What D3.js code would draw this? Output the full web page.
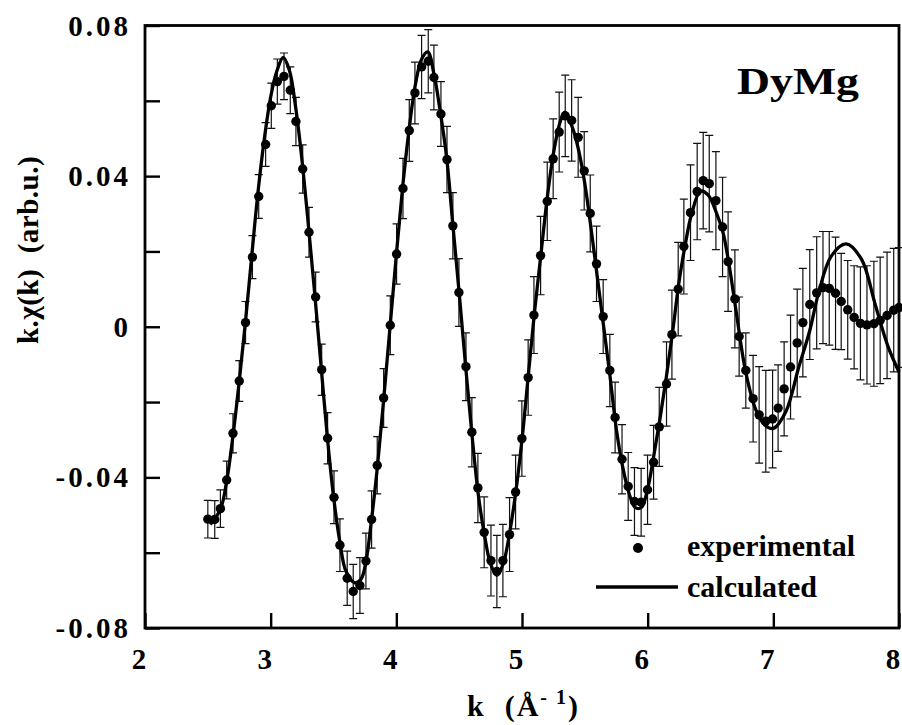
<!DOCTYPE html>
<html>
<head>
<meta charset="utf-8">
<script src="https://cdn.jsdelivr.net/npm/d3@7/dist/d3.min.js"></script>
<style>
  html, body { margin: 0; padding: 0; background: #fff; }
  svg { display: block; }
  text { font-family: "Liberation Serif", "Times New Roman", serif; font-weight: bold; fill: #000; }
</style>
</head>
<body>
<svg id="chart" width="902" height="725"></svg>
<script>
// ---- Data ----
const kExp = [2.50,2.555,2.60,2.65,2.70,2.75,2.80,2.855,2.905,2.96,3.005,3.053,3.106,3.156,3.201,3.255,3.305,3.358,
  3.406,3.453,3.504,3.551,3.609,3.657,3.710,3.758,3.803,3.848,3.899,3.952,4.002,4.053,4.103,4.148,4.201,4.254,4.299,
  4.355,4.403,4.450,4.498,4.554,4.601,4.649,4.699,4.753,4.800,4.848,4.901,4.949,4.999,5.049,5.095,5.148,5.201,5.248,
  5.296,5.344,5.395,5.447,5.495,5.543,5.593,5.646,5.699,5.741,5.796,5.845,5.895,5.948,5.999,6.047,6.092,6.150,6.193,
  6.243,6.288,6.341,6.394,6.442,6.490,6.543,6.596,6.640,6.694,6.728,6.781,6.839,6.887,6.940,6.994,7.038,7.086,7.137,
  7.190,7.235,7.290,7.345,7.395,7.445,7.495,7.540,7.592,7.643,7.693,7.745,7.800,7.850,7.905,7.958,8.000];
const chiExp = [-0.0511,-0.0512,-0.0483,-0.0407,-0.0283,-0.0144,0.0011,0.0185,0.0346,0.0484,0.0587,0.0651,0.0665,0.0628,0.0545,0.0419,0.0251,0.0079,
  -0.0114,-0.0296,-0.0453,-0.0580,-0.0668,-0.0703,-0.0687,-0.0622,-0.0512,-0.0368,-0.0189,0.0004,0.0193,0.0367,0.0521,0.0621,0.0690,0.0705,0.0662,
  0.0565,0.0444,0.0268,0.0091,-0.0106,-0.0280,-0.0428,-0.0546,-0.0621,-0.0650,-0.0621,-0.0552,-0.0439,-0.0297,-0.0135,0.0031,0.0189,0.0333,0.0446,
  0.0517,0.0560,0.0548,0.0503,0.0414,0.0301,0.0167,0.0027,-0.0116,-0.0241,-0.0352,-0.0424,-0.0464,-0.0466,-0.0433,-0.0360,-0.0266,-0.0152,-0.0021,
  0.0100,0.0213,0.0303,0.0359,0.0388,0.0380,0.0335,0.0265,0.0173,0.0074,-0.0026,-0.0116,-0.0191,-0.0234,-0.0251,-0.0245,-0.0216,-0.0165,-0.0107,
  -0.0043,0.0011,0.0059,0.0090,0.0104,0.0102,0.0089,0.0067,0.0045,0.0025,0.0009,0.0005,0.0008,0.0017,0.0030,0.0044,0.0051];
const errExp = [0.0050,0.0050,0.0050,0.0050,0.0052,0.0054,0.0056,0.0057,0.0058,0.0058,0.0060,0.0060,0.0062,0.0062,0.0064,0.0064,0.0066,0.0066,
  0.0068,0.0068,0.0070,0.0070,0.0072,0.0072,0.0074,0.0074,0.0076,0.0076,0.0078,0.0078,0.0080,0.0080,0.0082,0.0082,0.0084,0.0084,0.0086,
  0.0086,0.0088,0.0088,0.0090,0.0090,0.0092,0.0092,0.0094,0.0094,0.0096,0.0096,0.0098,0.0098,0.0100,0.0100,0.0102,0.0104,0.0104,0.0106,
  0.0106,0.0108,0.0108,0.0106,0.0104,0.0102,0.0100,0.0098,0.0096,0.0094,0.0092,0.0090,0.0090,0.0090,0.0092,0.0098,0.0105,0.0112,0.0118,
  0.0124,0.0126,0.0127,0.0128,0.0128,0.0128,0.0130,0.0132,0.0132,0.0130,0.0105,0.0100,0.0115,0.0128,0.0135,0.0130,0.0115,0.0125,0.0138,
  0.0143,0.0144,0.0146,0.0149,0.0149,0.0151,0.0149,0.0128,0.0131,0.0137,0.0150,0.0157,0.0166,0.0168,0.0168,0.0164,0.0159];

const kCalc = [2.52,2.60,2.65,2.70,2.75,2.80,2.85,2.90,2.95,3.00,3.05,3.10,3.15,3.20,3.25,3.30,3.35,3.40,3.45,3.50,3.55,3.60,3.67,3.72,3.76,
  3.80,3.85,3.90,3.95,4.00,4.05,4.10,4.15,4.20,4.25,4.30,4.35,4.40,4.45,4.50,4.55,4.60,4.65,4.70,4.75,4.80,4.85,4.90,4.95,5.00,5.05,5.10,5.15,
  5.20,5.25,5.30,5.34,5.40,5.45,5.50,5.55,5.60,5.65,5.70,5.75,5.80,5.85,5.90,5.95,6.00,6.05,6.10,6.15,6.20,6.25,6.30,6.35,6.42,6.48,6.55,6.60,
  6.65,6.70,6.78,6.86,6.93,7.00,7.10,7.20,7.29,7.36,7.46,7.58,7.70,7.81,7.91,8.00];
const chiCalc = [-0.0525,-0.0485,-0.041,-0.029,-0.0145,0.0015,0.019,0.036,0.050,0.061,0.068,0.0715,0.068,0.058,0.044,0.027,0.009,-0.010,-0.029,-0.045,-0.057,-0.065,-0.068,-0.067,-0.062,
  -0.052,-0.037,-0.019,0.000,0.019,0.037,0.052,0.064,0.071,0.073,0.067,0.057,0.045,0.027,0.009,-0.010,-0.028,-0.044,-0.055,-0.063,-0.066,-0.063,-0.055,-0.044,-0.030,-0.013,0.004,0.019,
  0.034,0.046,0.054,0.057,0.053,0.047,0.038,0.026,0.013,0.000,-0.013,-0.027,-0.037,-0.044,-0.048,-0.048,-0.043,-0.034,-0.024,-0.013,-0.001,0.012,0.022,0.030,0.036,0.035,0.030,0.025,
  0.016,0.005,-0.012,-0.022,-0.026,-0.027,-0.0225,-0.011,-0.001,0.009,0.0187,0.022,0.018,0.006,-0.005,-0.012];

const xTickValues = [2,3,4,5,6,7,8];
const xTickLabels = ["2","3","4","5","6","7","8"];
const yTickValues = [-0.08,-0.06,-0.04,-0.02,0,0.02,0.04,0.06,0.08];
const yLabelValues = [0.08,0.04,0,-0.04,-0.08];
const yLabelTexts = ["0.08","0.04","0","-0.04","-0.08"];
const seriesNames = ["experimental","calculated"];
const sampleName = "DyMg";

// ---- Layout ----
const svg = d3.select("#chart");
const mLeft = 145, mRight = 899, mTop = 25.5, mBottom = 628;
const x = d3.scaleLinear().domain([2, 8]).range([mLeft, mRight]);
const y = d3.scaleLinear().domain([-0.08, 0.08]).range([mBottom, mTop]);

// axes ticks (inward)
const gx = svg.append("g").attr("transform", `translate(0,${mBottom})`)
  .call(d3.axisBottom(x).tickValues(xTickValues).tickSize(-15).tickFormat(""));
const gy = svg.append("g").attr("transform", `translate(${mLeft},0)`)
  .call(d3.axisLeft(y).tickValues(yTickValues).tickSize(-15).tickFormat(""));
[gx, gy].forEach(g => {
  g.select(".domain").remove();
  g.selectAll(".tick line").attr("stroke", "#000").attr("stroke-width", 2.4);
});

// frame
svg.append("rect").attr("x", mLeft).attr("y", mTop)
  .attr("width", mRight - mLeft).attr("height", mBottom - mTop)
  .attr("fill", "none").attr("stroke", "#000").attr("stroke-width", 2.8);

// tick labels
svg.append("g").selectAll("text").data(xTickValues).join("text")
  .attr("x", d => x(d) - 6).attr("y", 669)
  .attr("text-anchor", "middle").attr("font-size", 29)
  .text((d, i) => xTickLabels[i]);

svg.append("g").selectAll("text").data(yLabelValues).join("text")
  .attr("x", 131).attr("y", d => y(d) + 10)
  .attr("text-anchor", "end").attr("font-size", 29)
  .style("letter-spacing", "3px")
  .text((d, i) => yLabelTexts[i]);

// axis titles
const xt = svg.append("text").attr("x", 467).attr("y", 716).attr("font-size", 30)
  .attr("text-anchor", "start").style("white-space", "pre").style("letter-spacing", "2px");
xt.append("tspan").text("k  (Å");
xt.append("tspan").attr("dy", -12).attr("font-size", 20).text("- 1");
xt.append("tspan").attr("dy", 12).text(")");

svg.append("text")
  .attr("transform", "translate(38,250) rotate(-90)")
  .attr("text-anchor", "middle").attr("font-size", 29)
  .style("white-space", "pre").style("letter-spacing", "0.5px")
  .text("k.χ(k)  (arb.u.)");

// error bars
const pts = kExp.map((k, i) => ({k, v: chiExp[i], e: errExp[i]}));
const eb = svg.append("g").attr("stroke", "#111").attr("stroke-width", 1.2).attr("fill", "none");
eb.selectAll("path").data(pts).join("path")
  .attr("d", d => {
    const cx = x(d.k), y1 = y(d.v + d.e), y2 = y(d.v - d.e), w = 4;
    return `M${cx},${y1}V${y2}M${cx - w},${y1}H${cx + w}M${cx - w},${y2}H${cx + w}`;
  });

// calculated curve
const calc = kCalc.map((k, i) => ({k, v: chiCalc[i]}));
svg.append("path").datum(calc)
  .attr("fill", "none").attr("stroke", "#000").attr("stroke-width", 3.3)
  .attr("stroke-linejoin", "round")
  .attr("d", d3.line().x(d => x(d.k)).y(d => y(d.v)).curve(d3.curveCatmullRom.alpha(0.5)));

// experimental points
svg.append("g").selectAll("circle").data(pts).join("circle")
  .attr("cx", d => x(d.k)).attr("cy", d => y(d.v)).attr("r", 4.7).attr("fill", "#000");

// sample label
svg.append("text").attr("x", 737).attr("y", 94).attr("font-size", 37)
  .attr("textLength", 122).attr("lengthAdjust", "spacingAndGlyphs").text(sampleName);

// legend
svg.append("circle").attr("cx", 638).attr("cy", 548).attr("r", 5).attr("fill", "#000");
svg.append("text").attr("x", 687).attr("y", 556).attr("font-size", 30)
  .attr("textLength", 168).attr("lengthAdjust", "spacingAndGlyphs").text(seriesNames[0]);
svg.append("line").attr("x1", 596).attr("x2", 678).attr("y1", 587).attr("y2", 587)
  .attr("stroke", "#000").attr("stroke-width", 3.3);
svg.append("text").attr("x", 687).attr("y", 597).attr("font-size", 30)
  .attr("textLength", 130).attr("lengthAdjust", "spacingAndGlyphs").text(seriesNames[1]);
</script>
</body>
</html>
